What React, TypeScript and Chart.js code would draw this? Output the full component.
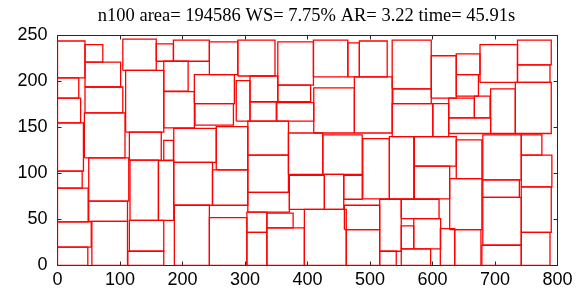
import React, { useEffect, useRef } from 'react';
import { Chart, registerables } from 'chart.js';

Chart.register(...registerables);

const titleText = 'n100 area= 194586 WS= 7.75% AR= 3.22 time= 45.91s';
const xTicks = [0, 100, 200, 300, 400, 500, 600, 700, 800];
const yTicks = [0, 50, 100, 150, 200, 250];

// blocks as [x1, y1, x2, y2]
const blocksLeft: number[][] = [
  [0, 204, 44, 244],
  [44, 221, 72.5, 240],
  [44, 194, 101, 221],
  [44, 166, 104.5, 194],
  [0, 182, 34, 204],
  [0, 155, 37, 182],
  [0, 102.5, 41.5, 155],
  [43, 117, 108, 166],
  [0, 84, 39.5, 102.5],
  [50, 70, 114, 117],
  [0, 47.5, 49, 84],
  [50, 48, 112, 70],
  [0, 20, 54, 47.5],
  [0, 0, 48.5, 20],
  [55, 0, 112, 48],
  [104.5, 212, 158, 246],
  [109, 145, 170, 212],
  [158, 222, 185.5, 241],
  [185.5, 222, 243, 245],
  [170, 189.5, 209, 222],
  [243, 207.5, 288.5, 243],
  [219, 176, 283, 207.5],
  [170, 149.5, 219, 189],
  [220, 152.5, 281.5, 176],
  [288.5, 206, 348, 245],
  [352.5, 196, 409.5, 243],
  [286, 157, 308, 201],
  [308, 178, 352.5, 206],
  [352.5, 178, 405, 196],
  [308, 157, 350, 178],
  [351, 157, 410, 177],
  [115, 114.5, 166, 145],
  [170, 114.5, 185.5, 136],
  [186, 112, 254, 149],
  [254, 104, 304.5, 151],
  [304.5, 120, 369.5, 157],
  [369.5, 99, 424.5, 144],
  [116, 49, 161.5, 114.5],
  [161.5, 49, 186, 114],
  [186, 65.5, 248, 112],
  [248, 65.5, 304.5, 104],
  [304.5, 79.5, 369.5, 120],
  [304.5, 58, 371, 79.5],
  [371, 61, 427, 98],
  [115, 15.5, 170, 49],
  [112.5, 0, 170, 15.5],
  [187, 0, 243, 65.5],
  [243, 0, 303, 52],
  [303, 36, 335, 58],
  [303, 0, 335, 36],
  [335, 41, 377, 57],
  [335, 0, 395, 41],
  [395, 0, 462, 61],
];

const blocksRight: number[][] = [
  [409.5, 205, 464.5, 245],
  [464.5, 205, 483, 242],
  [483, 205, 527.5, 244],
  [535.5, 192, 598, 245],
  [598, 182, 638, 228],
  [638, 207.5, 676, 230],
  [638, 184, 673.5, 207.5],
  [676, 199, 736, 240],
  [736, 218, 790, 245],
  [736, 199, 788, 218],
  [410, 144, 475, 193],
  [475, 144, 535.5, 205],
  [536.5, 176, 598, 192],
  [535.5, 140, 600.5, 176],
  [600.5, 140, 626, 176],
  [626, 160.5, 667, 182],
  [667, 160.5, 692, 184],
  [626, 143.5, 693, 160.5],
  [693, 143.5, 732.5, 192],
  [732.5, 143.5, 790, 199],
  [424.5, 99, 487.5, 142],
  [488.5, 72.5, 531, 138],
  [531, 72.5, 570, 140],
  [571, 108, 638, 140],
  [571, 72.5, 627.5, 108],
  [638, 94.5, 679, 136.5],
  [680.5, 93, 742, 142],
  [742, 120, 775, 142],
  [742, 85.5, 791, 120],
  [427, 61, 458, 99],
  [458, 72, 487.5, 98],
  [459, 39, 515.5, 65.5],
  [515.5, 15.5, 550, 72],
  [550, 51, 610.5, 72],
  [550, 18, 570, 43],
  [570, 18, 613, 51],
  [627.5, 39, 679, 94.5],
  [680.5, 22, 742, 74],
  [680.5, 74, 739, 93],
  [742, 36, 790, 85.5],
  [462, 0, 515.5, 39],
  [515.5, 0, 542, 15.5],
  [550, 0, 597, 18],
  [612.5, 0, 635.5, 40],
  [635.5, 0, 677.5, 39],
  [679, 0, 742, 22],
  [742, 0, 788, 36],
];

const framePlugin = {
  id: 'framePlugin',
  beforeDatasetsDraw(chart: any) {
    const { ctx, chartArea, scales } = chart;
    const { left, right, top, bottom } = chartArea;
    ctx.save();
    ctx.strokeStyle = '#262626';
    ctx.lineWidth = 1;
    ctx.strokeRect(left, top, right - left, bottom - top);
    const tl = 4;
    ctx.beginPath();
    xTicks.forEach((v) => {
      const px = Math.round(scales.x.getPixelForValue(v) - 0.5) + 0.5;
      ctx.moveTo(px, bottom);
      ctx.lineTo(px, bottom - tl);
      ctx.moveTo(px, top);
      ctx.lineTo(px, top + tl);
    });
    yTicks.forEach((v) => {
      const py = Math.round(scales.y.getPixelForValue(v) - 0.5) + 0.5;
      ctx.moveTo(left, py);
      ctx.lineTo(left + tl, py);
      ctx.moveTo(right, py);
      ctx.lineTo(right - tl, py);
    });
    ctx.stroke();
    ctx.restore();
  },
  afterDraw(chart: any) {
    const { ctx, chartArea } = chart;
    ctx.save();
    ctx.fillStyle = '#000';
    ctx.font = '18.5px "Liberation Serif"';
    ctx.textAlign = 'center';
    ctx.textBaseline = 'alphabetic';
    ctx.fillText(titleText, (chartArea.left + chartArea.right) / 2 - 1, 20.5);
    ctx.restore();
  },
};

export default function App() {
  const canvasRef = useRef<HTMLCanvasElement | null>(null);

  useEffect(() => {
    const canvas = canvasRef.current;
    if (!canvas) return;
    const all = [...blocksLeft, ...blocksRight];
    const datasets = all.map(([x1, y1, x2, y2]) => ({
      data: [
        { x: x1, y: y1 },
        { x: x2, y: y1 },
        { x: x2, y: y2 },
        { x: x1, y: y2 },
        { x: x1, y: y1 },
      ],
      showLine: true,
      borderColor: '#ff0000',
      borderWidth: 1.3,
      pointRadius: 0,
      pointHoverRadius: 0,
      fill: false,
      tension: 0,
      borderJoinStyle: 'miter' as const,
    }));

    const tickFont = { family: '"Liberation Sans", Arial, sans-serif', size: 18 };

    const chart = new Chart(canvas, {
      type: 'scatter',
      data: { datasets },
      options: {
        responsive: false,
        animation: false,
        events: [],
        layout: { padding: { top: 35.5, right: 23.5, left: 0, bottom: 0 } },
        plugins: {
          legend: { display: false },
          title: { display: false },
          tooltip: { enabled: false },
        },
        scales: {
          x: {
            type: 'linear',
            min: 0,
            max: 800,
            afterFit: (s: any) => { s.height = 23.5; },
            afterBuildTicks: (s: any) => { s.ticks = xTicks.map((v) => ({ value: v })); },
            ticks: { color: '#000', font: tickFont, padding: 4, maxRotation: 0, autoSkip: false },
            grid: { display: false, drawTicks: false },
            border: { display: false },
          },
          y: {
            type: 'linear',
            min: 0,
            max: 250,
            afterFit: (s: any) => { s.width = 57.5; },
            afterBuildTicks: (s: any) => { s.ticks = yTicks.map((v) => ({ value: v })); },
            ticks: { color: '#000', font: tickFont, padding: 10, autoSkip: false },
            grid: { display: false, drawTicks: false },
            border: { display: false },
          },
        },
      },
      plugins: [framePlugin],
    });
    return () => chart.destroy();
  }, []);

  return (
    <div style={{ position: 'fixed', left: 0, top: 0, width: 581, height: 289, background: '#fff' }}>
      <canvas ref={canvasRef} width={581} height={289} style={{ display: 'block' }} />
    </div>
  );
}
